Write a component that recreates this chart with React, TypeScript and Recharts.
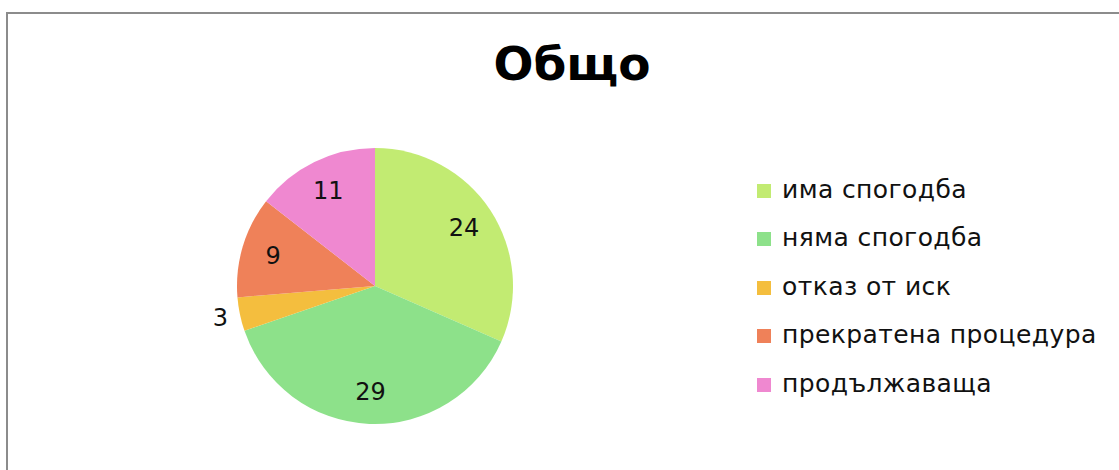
import { PieChart, Pie, Cell } from 'recharts';

const categories = ['има спогодба', 'няма спогодба', 'отказ от иск', 'прекратена процедура', 'продължаваща'];
const values = [24, 29, 3, 9, 11];
const colors = ['#c2eb72', '#8de18a', '#f4be3e', '#ef8159', '#ef88d0'];

const chartData = categories.map((name, i) => ({ name, value: values[i] }));

const RADIAN = Math.PI / 180;
const font = 'DejaVu Sans, Verdana, sans-serif';

function renderLabel(props: any) {
  const { cx, cy, midAngle, outerRadius, percent, value } = props;
  const r = percent < 0.05 ? outerRadius + 20 : outerRadius * 0.77;
  const x = cx + r * Math.cos(-midAngle * RADIAN);
  const y = cy + r * Math.sin(-midAngle * RADIAN);
  return (
    <text x={x} y={y} fill="#111" textAnchor="middle" dominantBaseline="central"
      fontFamily={font} fontSize={24}>
      {value}
    </text>
  );
}

export default function App() {
  return (
    <div style={{ position: 'absolute', left: 6, top: 12, width: 1120, height: 470, border: '2px solid #8c8c8c', background: '#fff' }}>
      <div style={{ position: 'absolute', left: 0, width: 1128, top: 22, textAlign: 'center', fontFamily: font, fontWeight: 'bold', fontSize: 47, color: '#000' }}>
        Общо
      </div>
      <PieChart width={1120} height={460}>
        <Pie
          data={chartData}
          dataKey="value"
          nameKey="name"
          cx={362}
          cy={267}
          outerRadius={138}
          startAngle={90}
          endAngle={-270}
          stroke="none"
          label={renderLabel}
          labelLine={false}
          isAnimationActive={false}
        >
          {chartData.map((d, i) => (
            <Cell key={d.name} fill={colors[i]} />
          ))}
        </Pie>
      </PieChart>
      <div style={{ position: 'absolute', left: 749, top: 151, fontFamily: font, fontSize: 25, color: '#111' }}>
        {chartData.map((d, i) => (
          <div key={d.name} style={{ display: 'flex', alignItems: 'center', height: 48.5, letterSpacing: 0.4, whiteSpace: 'nowrap' }}>
            <span style={{ width: 14, height: 14, background: colors[i], marginRight: 11, marginTop: 3, display: 'inline-block' }} />
            {d.name}
          </div>
        ))}
      </div>
    </div>
  );
}
